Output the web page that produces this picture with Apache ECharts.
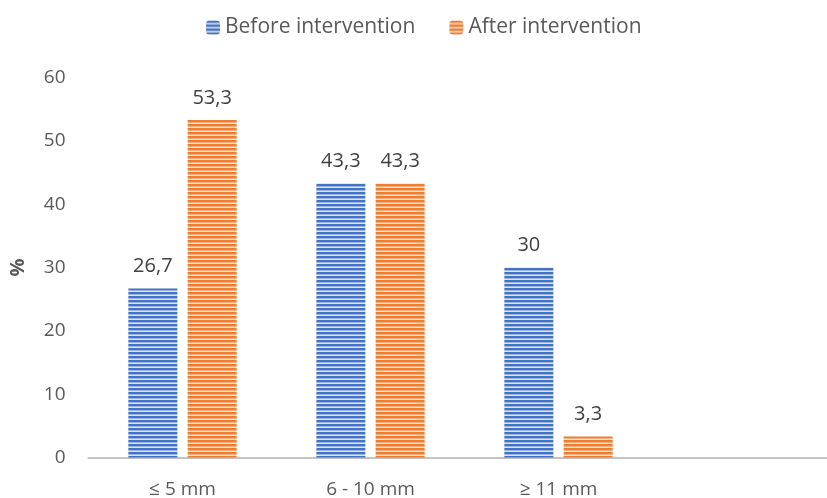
<!DOCTYPE html>
<html>
<head>
<meta charset="utf-8">
<script src="https://cdn.jsdelivr.net/npm/echarts@6/dist/echarts.min.js"></script>
<style>
html,body{margin:0;padding:0;background:#fff;}
#chart{width:827px;height:498px;}
</style>
</head>
<body>
<div id="chart"></div>
<script>
// ---- data ----
var categories = ['\u2264 5 mm', '6 - 10 mm', '\u2265 11 mm', ''];
var seriesNames = ['Before intervention', 'After intervention'];
var beforeValues = [26.7, 43.3, 30, null];
var afterValues = [53.3, 43.3, 3.3, null];
var yTicks = { min: 0, max: 60, interval: 10 };

function stripe(dark, light, mid) {
  var c = document.createElement('canvas');
  c.width = 4; c.height = 4;
  var ctx = c.getContext('2d');
  ctx.fillStyle = dark; ctx.fillRect(0, 0, 4, 2);
  ctx.fillStyle = mid; ctx.fillRect(0, 2, 4, 1);
  ctx.fillStyle = light; ctx.fillRect(0, 3, 4, 1);
  return { image: c, repeat: 'repeat' };
}
var bluePat = stripe('#4472C4', '#DCE5F5', '#9AB3E0');
var orangePat = stripe('#ED7D31', '#FBE2D2', '#F4AE80');

var FONT = '"Open Sans", sans-serif';
function fmt(p) { return String(p.value).replace('.', ','); }

var chart = echarts.init(document.getElementById('chart'), null, { renderer: 'canvas' });
chart.setOption({
  animation: false,
  backgroundColor: '#ffffff',
  legend: {
    top: 12, left: 201,
    itemWidth: 14, itemHeight: 14, itemGap: 34,
    textStyle: { fontFamily: FONT, fontSize: 21, color: '#595959' },
    data: [
      { name: seriesNames[0], itemStyle: { color: bluePat } },
      { name: seriesNames[1], itemStyle: { color: orangePat } }
    ]
  },
  grid: { left: 88.5, top: 77.5, width: 752, height: 380, outerBoundsMode: 'none', containLabel: false },
  xAxis: {
    type: 'category',
    data: categories,
    axisLine: { lineStyle: { color: '#C4C4C4', width: 2 } },
    axisTick: { show: false },
    axisLabel: { fontFamily: FONT, fontSize: 19, color: '#595959', margin: 23 }
  },
  yAxis: {
    type: 'value',
    min: yTicks.min, max: yTicks.max, interval: yTicks.interval,
    name: '%',
    nameLocation: 'middle',
    nameGap: 60,
    nameRotate: 90,
    nameTextStyle: { fontFamily: FONT, fontSize: 20, fontWeight: 'bold', color: '#595959' },
    axisLine: { show: false },
    axisTick: { show: false },
    splitLine: { show: false },
    axisLabel: { fontFamily: FONT, fontSize: 19, color: '#595959', margin: 23 }
  },
  series: [
    {
      name: seriesNames[0], type: 'bar', data: beforeValues,
      barWidth: 49, barGap: '21%',
      itemStyle: { color: bluePat },
      label: { show: true, position: 'top', distance: 12, formatter: fmt,
               fontFamily: FONT, fontSize: 20, color: '#404040' }
    },
    {
      name: seriesNames[1], type: 'bar', data: afterValues,
      barWidth: 49, barGap: '21%',
      itemStyle: { color: orangePat },
      label: { show: true, position: 'top', distance: 12, formatter: fmt,
               fontFamily: FONT, fontSize: 20, color: '#404040' }
    }
  ]
});
</script>
</body>
</html>
